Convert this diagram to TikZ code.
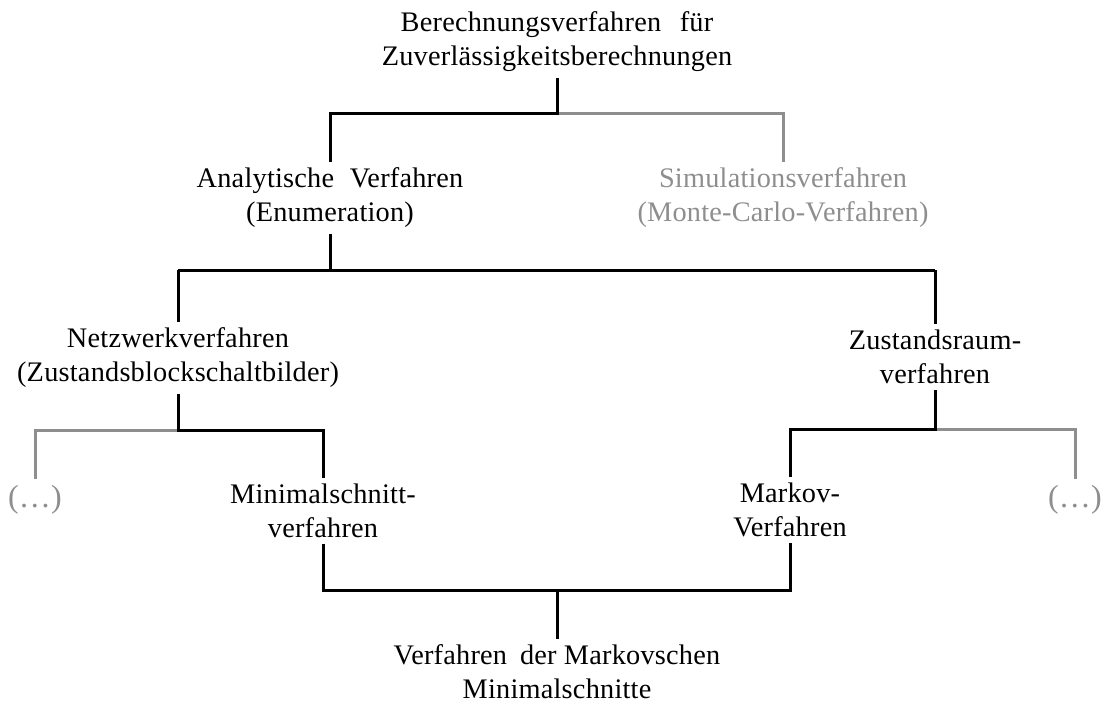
\documentclass[tikz,border=0pt]{standalone}
\usepackage{fontspec}
\setmainfont{Liberation Serif}[LetterSpace=0.8]
\begin{document}
\begin{tikzpicture}[x=1pt,y=-1pt,
  lbl/.style={align=center,inner sep=0pt,outer sep=6pt,
    font=\fontsize{28.3}{34}\selectfont},
  grey/.style={text=lightgrey},
  dots/.style={inner sep=0pt,outer sep=6pt,text=lightgrey,
    font=\fontsize{32}{38}\selectfont},
  blk/.style={line width=3pt,draw=black},
  gry/.style={line width=3pt,draw=lightgrey}]
\definecolor{lightgrey}{HTML}{8E8E8E}
\useasboundingbox (0,0) rectangle (1106,704);

% labels
\node[lbl] (top) at (557,42) {Berechnungsverfahren\hspace{0.4em} für\\Zuverlässigkeitsberechnungen};
\node[lbl] (ana) at (330,198) {Analytische\hspace{0.3em} Verfahren\\(Enumeration)};
\node[lbl,grey] (sim) at (783,198) {Simulationsverfahren\\(Monte-Carlo-Verfahren)};
\node[lbl] (netz) at (178,358) {Netzwerkverfahren\\(Zustandsblockschaltbilder)};
\node[lbl] (zust) at (935,357) {Zustandsraum-\\verfahren};
\node[dots] (dotl) at (35,500) {(…)};
\node[lbl] (mini) at (323,511) {Minimalschnitt-\\verfahren};
\node[lbl] (mark) at (790,510) {Markov-\\Verfahren};
\node[dots] (dotr) at (1075,500) {(…)};
\node[lbl] (mms) at (557,672) {Verfahren\hspace{0.2em} der Markovschen\\Minimalschnitte};

% junction points
\coordinate (j1) at (557,113);
\coordinate (j2) at (330,270);
\coordinate (j3) at (178,430);
\coordinate (j4) at (935,429);
\coordinate (j5) at (557,590);

% connectors
\draw[gry] (j1) -| (sim.north);
\draw[blk] (top.south) -- (j1) -| (ana.north);

\draw[blk] (ana.south) -- (j2);
\draw[blk] (j2 -| netz.north) -- (j2 -| zust.north);
\draw[blk] (j2 -| netz.north) -- (netz.north);
\draw[blk] (j2 -| zust.north) -- (zust.north);

\draw[gry] (j3) -| (dotl.north);
\draw[blk] (netz.south) -- (j3) -| (mini.north);

\draw[gry] (j4) -| (dotr.north);
\draw[blk] (zust.south) -- (j4) -| (mark.north);

\draw[blk] (mini.south) |- (j5) -| (mark.south);
\draw[blk] (j5) -- (mms.north);
\end{tikzpicture}
\end{document}
